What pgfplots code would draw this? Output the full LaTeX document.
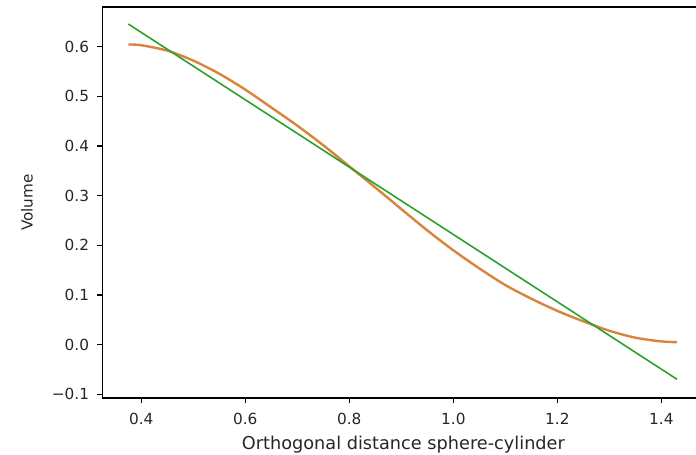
\documentclass[border=0pt]{standalone}
\usepackage{pgfplots}
\pgfplotsset{compat=1.18}
\usepackage{fontspec}
\setmainfont{DejaVu Sans}
\definecolor{mplorange}{HTML}{D8843C}
\definecolor{mplgreen}{HTML}{2CA02C}
\begin{document}
\begin{tikzpicture}
\begin{axis}[scale only axis, width=301.1pt, height=195.5pt,
  xmin=0.325, xmax=1.483, ymin=-0.1075, ymax=0.680,
  xtick={0.4,0.6,0.8,1.0,1.2,1.4}, xticklabels={0.4,0.6,0.8,1.0,1.2,1.4},
  ytick={-0.1,0,0.1,0.2,0.3,0.4,0.5,0.6},
  yticklabels={−0.1,0.0,0.1,0.2,0.3,0.4,0.5,0.6},
  tick pos=left, tick align=outside, major tick length=2.6pt,
  every tick/.style={black, line width=0.6pt},
  axis line style={black, line width=0.6pt},
  tick label style={font=\fontsize{7.65}{9}\selectfont, text=black!85},
  /pgf/number format/assume math mode=true,
  xticklabel style={yshift=-1.3pt}, yticklabel style={xshift=-0.5pt},
  xlabel={Orthogonal distance sphere-cylinder}, ylabel={Volume},
  xlabel style={font=\fontsize{8.85}{10.5}\selectfont, text=black!85,
    at={(axis description cs:0.5,0)}, anchor=center, yshift=-23.3pt},
  ylabel style={font=\fontsize{7.6}{9}\selectfont, text=black!85,
    at={(axis description cs:-0.125,0.5)}, anchor=center},
  clip=true]
% fitted volume
\addplot[mplorange, line width=1.2pt, smooth] coordinates {
  (0.375,0.6045) (0.40,0.6030) (0.45,0.5921) (0.50,0.5720) (0.55,0.5456)
  (0.60,0.5136) (0.65,0.4776) (0.70,0.4410) (0.75,0.4015) (0.80,0.3590)
  (0.85,0.3165) (0.90,0.2730) (0.95,0.2300) (1.00,0.1900) (1.05,0.1535)
  (1.10,0.1200) (1.15,0.0925) (1.20,0.0680) (1.25,0.0470) (1.30,0.0280)
  (1.35,0.0140) (1.40,0.0065) (1.43,0.0050)};
% linear fit
\addplot[mplgreen, line width=0.8pt] coordinates {(0.375,0.6457) (1.43,-0.0697)};
\coordinate (sw) at (rel axis cs:0,0);
\coordinate (nw) at (rel axis cs:0,1);
\end{axis}
\pgfresetboundingbox
\path[use as bounding box] ([xshift=-51.15pt, yshift=-28pt]sw) rectangle ([xshift=296.85pt, yshift=3.5pt]nw);
\end{tikzpicture}
\end{document}
